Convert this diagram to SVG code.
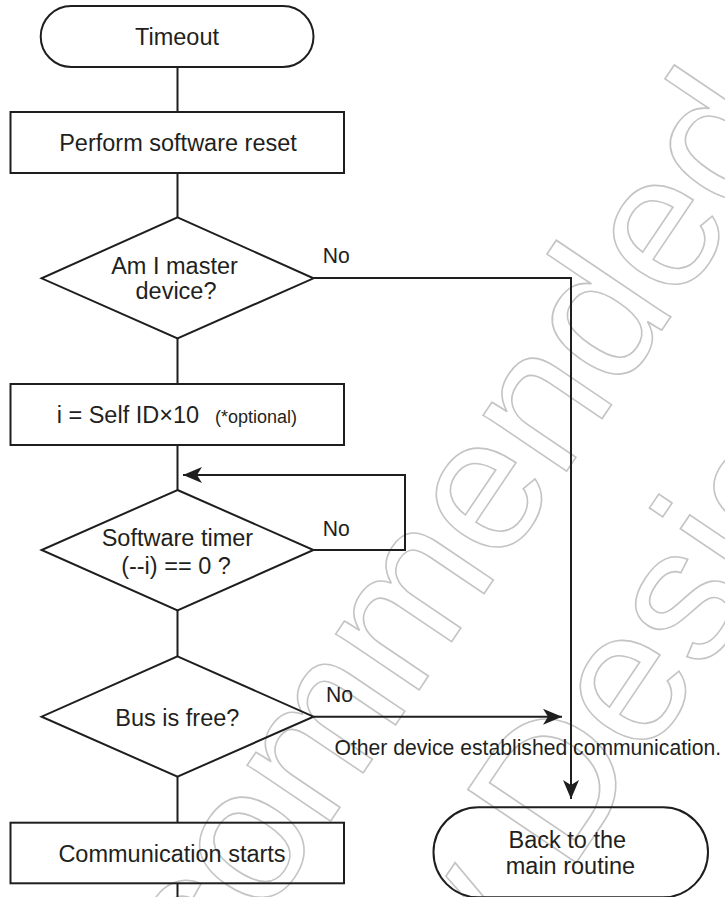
<svg xmlns="http://www.w3.org/2000/svg" width="725" height="897" viewBox="0 0 725 897">
<defs>
<style>
.wm{font-family:"Liberation Sans",Arial,sans-serif;font-size:190px;fill:none;stroke:#c4c4c4;stroke-width:1.6;text-anchor:middle}
.sh{fill:none;stroke:#1e1e1e;stroke-width:2}
.ln{fill:none;stroke:#1e1e1e;stroke-width:2}
.t{font-family:"Liberation Sans",Arial,sans-serif;font-size:23.5px;fill:#231f20;text-anchor:middle}
.s{font-family:"Liberation Sans",Arial,sans-serif;font-size:21.15px;fill:#231f20}
.o{font-family:"Liberation Sans",Arial,sans-serif;font-size:18px;fill:#231f20}
</style>
<marker id="ah" viewBox="-20 -9 21 18" refX="0" refY="0" markerWidth="21" markerHeight="18" markerUnits="userSpaceOnUse" orient="auto">
<path d="M0,0 L-19,-8 L-14,0 L-19,8 Z" fill="#1e1e1e"/>
</marker>
</defs>
<rect width="725" height="897" fill="#ffffff"/>
<g id="watermark" transform="translate(338,810) rotate(-56)">
<text class="wm" x="0" y="0">Not Recommended</text>
<text class="wm" x="16" y="227">for New Design</text>
</g>
<g id="connectors">
<path class="ln" d="M177.5,67 V112 M177.5,173 V217 M177.5,338 V384 M177.5,445 V490 M177.5,610 V656 M177.5,777 V823 M177.5,883 V897"/>
<path class="ln" d="M313.5,278 H571 V799" marker-end="url(#ah)"/>
<path class="ln" d="M313.5,550 H405 V475 H183" marker-end="url(#ah)"/>
<path class="ln" d="M313.5,716.7 H562" marker-end="url(#ah)"/>
<text class="s" x="322.7" y="263">No</text>
<text class="s" x="322.7" y="536">No</text>
<text class="s" x="326" y="701.7">No</text>
<text class="s" x="334.5" y="754.5">Other device established communication.</text>
</g>
<g id="timeout">
<rect class="sh" x="40.7" y="6" width="272.8" height="61" rx="30.5" ry="30.5"/>
<text class="t" x="177" y="45">Timeout</text>
</g>
<g id="reset">
<rect class="sh" x="10.5" y="112" width="333.5" height="61"/>
<text class="t" x="178" y="150.7">Perform software reset</text>
</g>
<g id="master">
<path class="sh" d="M177.5,217.3 L313.5,278.3 L177.5,338.3 L41.6,278.3 Z"/>
<text class="t" x="174.5" y="274">Am I master</text>
<text class="t" x="176" y="299">device?</text>
</g>
<g id="selfid">
<rect class="sh" x="10.5" y="384" width="333.5" height="61"/>
<text class="t" x="56.7" y="422.7" style="text-anchor:start">i = Self ID×10</text>
<text class="o" x="215" y="422.7">(*optional)</text>
</g>
<g id="timer">
<path class="sh" d="M177.5,490 L313.5,550 L177.5,610.5 L41.6,550 Z"/>
<text class="t" x="177.4" y="545.5">Software timer</text>
<text class="t" x="176" y="573.5">(--i) == 0 ?</text>
</g>
<g id="busfree">
<path class="sh" d="M177.5,656.3 L313.5,716.7 L177.5,776.7 L41.6,716.7 Z"/>
<text class="t" x="177.3" y="725.7">Bus is free?</text>
</g>
<g id="commstart">
<rect class="sh" x="10.5" y="822.7" width="333.5" height="60.6"/>
<text class="t" x="172" y="861.7">Communication starts</text>
</g>
<g id="back">
<rect class="sh" x="433.5" y="807.3" width="274.5" height="90" rx="45" ry="45"/>
<text class="t" x="567.3" y="847.5">Back to the</text>
<text class="t" x="570.4" y="874">main routine</text>
</g>
</svg>
